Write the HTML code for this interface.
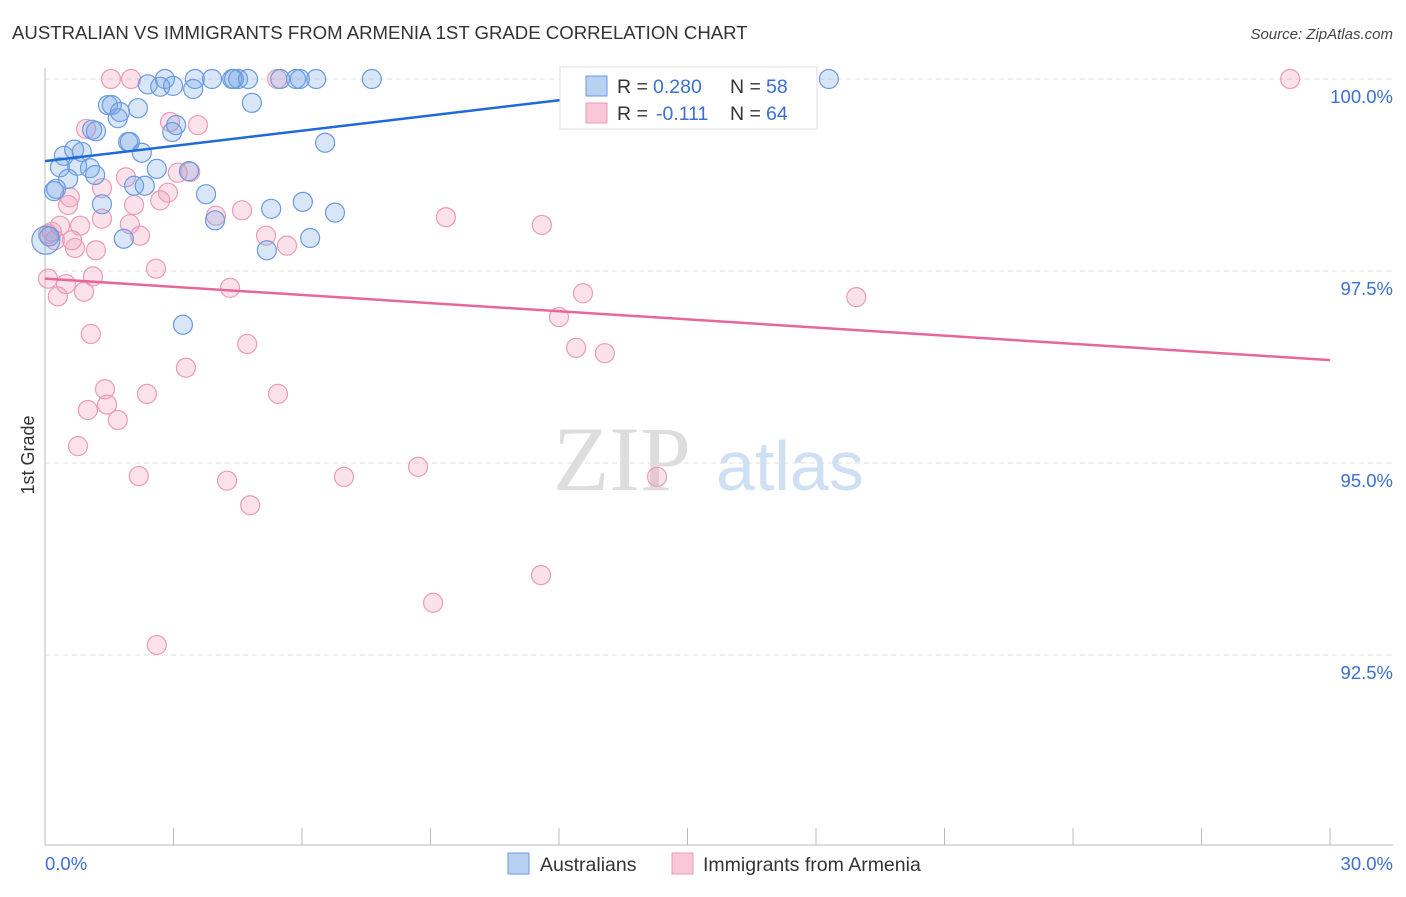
<!DOCTYPE html>
<html><head><meta charset="utf-8"><style>
body{margin:0;background:#fff;font-family:"Liberation Sans",sans-serif;}
</style></head><body>
<svg id="chart" width="1406" height="892" viewBox="0 0 1406 892" xmlns="http://www.w3.org/2000/svg" font-family="Liberation Sans, sans-serif">
<text x="12" y="39" font-size="18.6" fill="#333">AUSTRALIAN VS IMMIGRANTS FROM ARMENIA 1ST GRADE CORRELATION CHART</text>
<text x="1393" y="39" font-size="15" fill="#444" text-anchor="end" font-style="italic">Source: ZipAtlas.com</text>
<text x="553" y="490" font-size="92" fill="#ddd" font-family="Liberation Serif, serif">ZIP</text>
<text x="716" y="490" font-size="70" fill="#cfe0f5">atlas</text>
<g id="grid"></g>
<g id="axes"></g>
<g id="pts"></g>
<g id="trend"></g>
<g>
<rect x="560" y="67" width="257" height="62" fill="#fff" stroke="#ddd"/>
<rect x="586" y="76" width="21" height="20" fill="#b8d0f2" stroke="#6a9ae0"/>
<rect x="586" y="103" width="21" height="20" fill="#f8c8d8" stroke="#ec9ab8"/>
<text x="617" y="93" font-size="19.5" fill="#333">R = </text><text x="653" y="93" font-size="19.5" fill="#3b6fd4">0.280</text>
<text x="730" y="93" font-size="19.5" fill="#333">N = </text><text x="766" y="93" font-size="19.5" fill="#3b6fd4">58</text>
<text x="617" y="120" font-size="19.5" fill="#333">R = </text><text x="656" y="120" font-size="19.5" fill="#3b6fd4">-0.111</text>
<text x="730" y="120" font-size="19.5" fill="#333">N = </text><text x="766" y="120" font-size="19.5" fill="#3b6fd4">64</text>
</g>
<text transform="translate(34,455) rotate(-90)" font-size="18" fill="#333" text-anchor="middle">1st Grade</text>
<text x="45" y="870" font-size="18.5" fill="#3b6fd4">0.0%</text>
<text x="1393" y="870" font-size="18.5" fill="#3b6fd4" text-anchor="end">30.0%</text>
<rect x="508" y="853" width="21" height="21" fill="#b8d0f2" stroke="#6a9ae0"/>
<text x="540" y="871" font-size="19.5" fill="#333">Australians</text>
<rect x="672" y="853" width="21" height="21" fill="#f8c8d8" stroke="#ec9ab8"/>
<text x="703" y="871" font-size="19.5" fill="#333">Immigrants from Armenia</text>
</svg>
<script>
const yTicks=[100,97.5,95,92.5];
const yTickLabels=["100.0%","97.5%","95.0%","92.5%"];
const blueX=[2.40,2.80,2.69,2.99,3.50,3.90,3.46,4.37,4.51,4.41,4.74,5.49,5.86,5.95,6.33,7.63,12.35,18.30,1.47,1.56,2.17,1.70,1.75,4.83,1.10,1.19,2.97,3.06,1.94,1.98,6.54,0.44,0.68,0.86,2.26,0.35,0.75,1.05,2.61,3.36,0.54,1.17,0.21,0.26,2.08,2.33,3.76,1.33,5.28,6.02,6.77,3.97,1.84,6.19,5.18,3.22,0.02,0.10];
const blueY=[99.93,100,99.90,99.91,100,100,99.87,100,100,100,100,100,100,100,100,100,100,100,99.66,99.66,99.62,99.49,99.57,99.69,99.34,99.32,99.31,99.40,99.18,99.18,99.17,99.00,99.08,99.05,99.04,98.85,98.87,98.84,98.83,98.80,98.70,98.75,98.54,98.57,98.61,98.61,98.50,98.37,98.31,98.40,98.26,98.16,97.92,97.93,97.77,96.80,97.90,97.95];
const pinkX=[1.54,2.01,5.42,29.07,2.92,3.57,0.96,3.39,1.89,1.33,2.87,2.69,0.58,0.54,2.08,4.60,3.99,9.36,11.60,1.33,1.98,0.35,0.82,0.07,0.23,0.63,2.22,0.16,5.16,0.70,1.19,5.65,2.59,1.12,0.07,0.49,0.91,0.30,4.32,12.56,18.94,12.00,1.07,4.72,12.40,13.07,3.29,1.40,2.38,5.44,1.45,1.00,1.70,0.77,2.19,4.25,6.98,8.71,14.29,4.79,11.58,9.06,2.61,3.10];
const pinkY=[100,100,100,100,99.44,99.40,99.35,98.79,98.72,98.58,98.52,98.42,98.46,98.36,98.36,98.29,98.22,98.20,98.10,98.18,98.11,98.09,98.09,97.98,97.90,97.90,97.96,98.01,97.96,97.80,97.77,97.83,97.53,97.43,97.40,97.33,97.23,97.17,97.28,97.21,97.16,96.90,96.68,96.55,96.50,96.43,96.24,95.96,95.90,95.90,95.76,95.69,95.56,95.22,94.83,94.77,94.82,94.95,94.82,94.45,93.54,93.18,92.63,98.78];
const blueTrend=[[0,98.93],[12.4,99.75]];
const pinkTrend=[[0,97.40],[30,96.34]];
const NS="http://www.w3.org/2000/svg";
const X=v=>45+v/30*1285;
const Y=v=>79+(100-v)/2.5*192;
function mk(t,a,p){const e=document.createElementNS(NS,t);for(const k in a)e.setAttribute(k,a[k]);p.appendChild(e);return e;}
const grid=document.getElementById('grid');
yTicks.forEach((t,i)=>{
 const l=mk('line',{x1:45,x2:1393,y1:Y(t),y2:Y(t),stroke:'#ddd','stroke-dasharray':'5,4'},grid);
 
 
 const tx=mk('text',{x:1393,y:Y(t)+24,'font-size':18.5,fill:'#3b6fd4','text-anchor':'end'},grid);
 tx.textContent=yTickLabels[i];
 
 
});
const axes=document.getElementById('axes');
const ya=mk('line',{x1:45,x2:45,y1:68,y2:845,stroke:'#bbb'},axes);


const xa=mk('line',{x1:45,x2:1393,y1:845,y2:845,stroke:'#bbb'},axes);


for(let i=0;i<=10;i++){
 const tk=mk('line',{x1:X(i*3),x2:X(i*3),y1:828,y2:845,stroke:'#bbb'},axes);
 
 
}
const pts=document.getElementById('pts');
pinkX.forEach((x,i)=>{
 const c=mk('circle',{cx:X(x),cy:Y(pinkY[i]),r:9.5,fill:'rgba(240,150,180,0.28)',stroke:'#ec9ab8','stroke-width':1.2},pts);
 
 
});
blueX.forEach((x,i)=>{
 const c=mk('circle',{cx:X(x),cy:Y(blueY[i]),r:i==56?14:9.5,fill:'rgba(120,165,230,0.28)',stroke:'#6a9ae0','stroke-width':1.2},pts);
 
 
});
const tr=document.getElementById('trend');
const bl=mk('line',{x1:X(blueTrend[0][0]),y1:Y(blueTrend[0][1]),x2:X(blueTrend[1][0]),y2:Y(blueTrend[1][1]),stroke:'#1f6ad6','stroke-width':2.5},tr);


const pl=mk('line',{x1:X(pinkTrend[0][0]),y1:Y(pinkTrend[0][1]),x2:X(pinkTrend[1][0]),y2:Y(pinkTrend[1][1]),stroke:'#e8679a','stroke-width':2.5},tr);


</script>
</body></html>
